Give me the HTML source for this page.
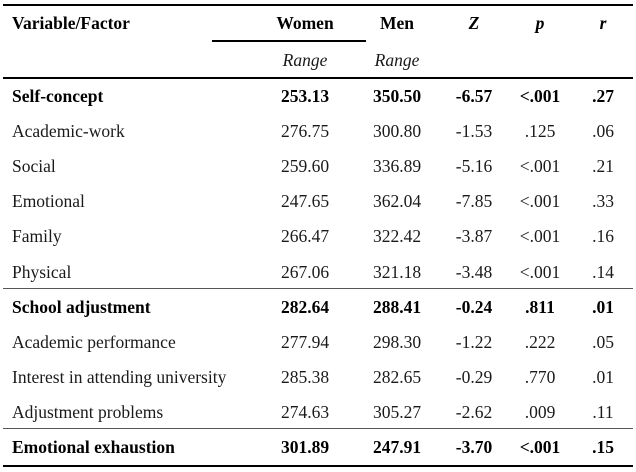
<!DOCTYPE html>
<html><head><meta charset="utf-8"><style>
body{margin:0;width:636px;height:472px;background:#fff;position:relative;font-family:"Liberation Serif",serif;font-size:17.5px;color:#1a1a1a;overflow:hidden}
.t{position:absolute;white-space:nowrap;line-height:20px}
.c{transform:translateX(-50%)}
.b{font-weight:bold;color:#000}
.l{position:absolute;background:#000}
</style></head><body>
<div class="l" style="left:3px;top:4px;width:630px;height:2px"></div>
<div class="l" style="left:212px;top:40px;width:154px;height:2px"></div>
<div class="l" style="left:3px;top:77px;width:630px;height:2px"></div>
<div class="l" style="left:3px;top:288px;width:630px;height:1px;background:#555"></div>
<div class="l" style="left:3px;top:428px;width:630px;height:1px;background:#555"></div>
<div class="l" style="left:3px;top:465px;width:630px;height:2px"></div>

<div class="t b" style="left:12px;top:13px">Variable/Factor</div>
<div class="t b c" style="left:305px;top:13px">Women</div>
<div class="t b c" style="left:397px;top:13px">Men</div>
<div class="t b c" style="left:474px;top:13px;font-style:italic">Z</div>
<div class="t b c" style="left:540px;top:13px;font-style:italic">p</div>
<div class="t b c" style="left:603px;top:13px;font-style:italic">r</div>
<div class="t c" style="left:305px;top:50px;font-style:italic">Range</div>
<div class="t c" style="left:397px;top:50px;font-style:italic">Range</div>

<div id="rows"></div>
<script>
var d=[["Self-concept","253.13","350.50","-6.57","<.001",".27",1],
["Academic-work","276.75","300.80","-1.53",".125",".06"],
["Social","259.60","336.89","-5.16","<.001",".21"],
["Emotional","247.65","362.04","-7.85","<.001",".33"],
["Family","266.47","322.42","-3.87","<.001",".16"],
["Physical","267.06","321.18","-3.48","<.001",".14"],
["School adjustment","282.64","288.41","-0.24",".811",".01",1],
["Academic performance","277.94","298.30","-1.22",".222",".05"],
["Interest in attending university","285.38","282.65","-0.29",".770",".01"],
["Adjustment problems","274.63","305.27","-2.62",".009",".11"],
["Emotional exhaustion","301.89","247.91","-3.70","<.001",".15",1]];
var xs=[305,397,474,540,603],h="";
d.forEach(function(r,i){var y=86+i*35.1,b=r[6]?" b":"";
h+='<div class="t'+b+'" style="left:12px;top:'+y+'px">'+r[0]+'</div>';
for(var j=1;j<6;j++)h+='<div class="t c'+b+'" style="left:'+xs[j-1]+'px;top:'+y+'px">'+r[j].replace("<","&lt;")+'</div>';});
document.getElementById("rows").innerHTML=h;
</script>
</body></html>
